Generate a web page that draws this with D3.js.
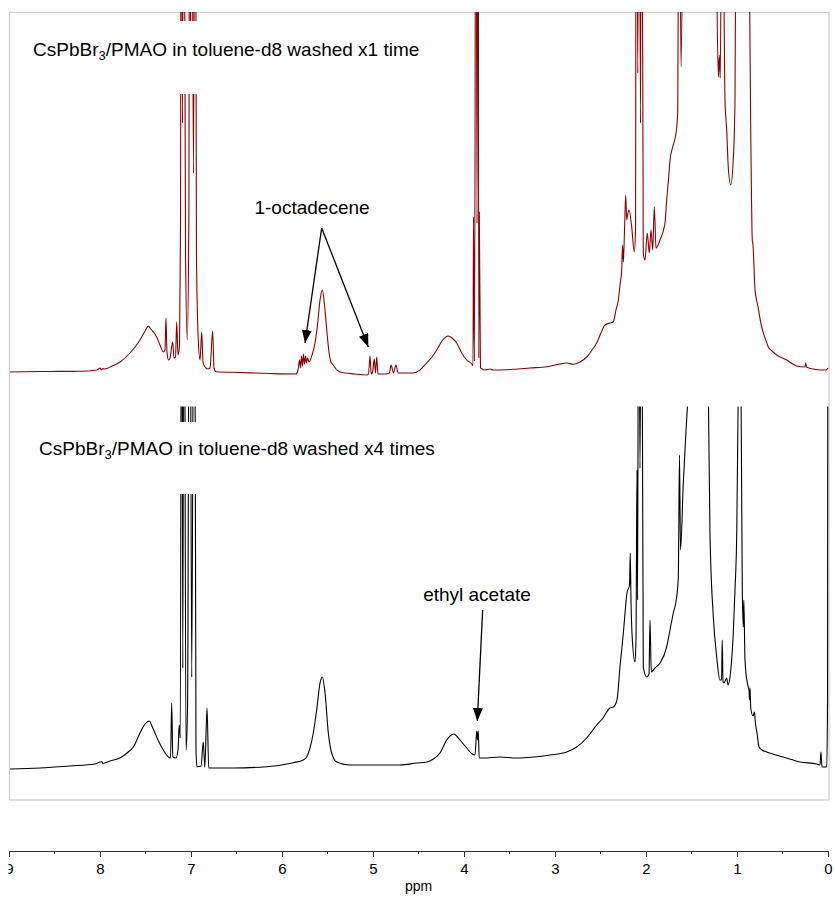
<!DOCTYPE html>
<html>
<head>
<meta charset="utf-8">
<script src="https://cdn.jsdelivr.net/npm/d3@7"></script>
<style>
  body { margin: 0; background: #fff; }
  svg { display: block; font-family: "Liberation Sans", Arial, sans-serif; }
</style>
</head>
<body>
<div class="nmr-chart"></div>
<script>
// 1H NMR, two spectra stacked, x axis in ppm (reversed)
const majorTicks = [9, 8, 7, 6, 5, 4, 3, 2, 1, 0];
const minorTicks = [8.5, 7.5, 6.5, 5.5, 4.5, 3.5, 2.5, 1.5, 0.5];

// [ppm, intensity a.u.] washed x1 time (red)
const washedOnce = [
  [9.000, 1], [8.659, 1.5], [8.220, 1.7], [8.033, 3], [8.000, 5], [7.984, 3], [7.967, 4.5], [7.945, 4],
  [7.868, 7], [7.780, 11], [7.670, 20], [7.560, 33], [7.505, 42], [7.469, 47], [7.451, 45], [7.377, 36],
  [7.341, 28], [7.304, 21], [7.286, 23], [7.275, 55], [7.264, 21], [7.247, 13], [7.231, 15], [7.201, 31],
  [7.187, 15], [7.170, 16], [7.157, 51], [7.143, 18], [7.126, 28], [7.115, 150], [7.107, 700], [7.093, 250],
  [7.082, 700], [7.060, 120], [7.041, 33], [7.024, 150], [7.014, 700], [7.004, 300], [6.995, 700], [6.973, 200],
  [6.954, 700], [6.940, 120], [6.923, 40], [6.901, 13], [6.882, 41], [6.868, 11], [6.852, 7], [6.835, 5],
  [6.813, 4], [6.791, 5], [6.762, 42], [6.747, 5], [6.725, 1.3], [6.462, 0.5], [6.132, -0.5], [5.846, -1],
  [5.824, 3], [5.808, 13], [5.797, 5], [5.786, 17], [5.775, 7], [5.764, 19], [5.753, 9], [5.742, 17],
  [5.731, 10], [5.720, 15], [5.703, 11], [5.670, 18], [5.637, 30], [5.610, 48], [5.582, 73], [5.557, 83],
  [5.533, 68], [5.505, 40], [5.484, 21], [5.462, 11], [5.436, 8], [5.407, 4], [5.363, 1], [5.198, -1],
  [5.069, -2], [5.049, -1], [5.033, 17], [5.019, -1], [5.005, 1], [4.986, 14], [4.973, 0], [4.959, 16],
  [4.945, -1], [4.868, -1], [4.819, 0], [4.802, 8], [4.775, 0], [4.747, 8], [4.725, 0], [4.560, 0],
  [4.484, 3], [4.410, 10], [4.352, 16], [4.300, 23], [4.242, 32], [4.173, 37], [4.132, 35], [4.080, 30],
  [4.025, 20], [3.970, 13], [3.915, 9], [3.901, 7], [3.896, 156], [3.885, 12], [3.868, 700], [3.857, 150],
  [3.846, 700], [3.837, 15], [3.832, 161], [3.819, 5], [3.802, 4], [3.769, 3], [3.714, 4], [3.681, 3],
  [3.462, 3.7], [3.275, 5], [3.091, 6.3], [2.945, 9], [2.871, 10], [2.802, 8.7], [2.725, 11], [2.652, 16],
  [2.593, 23], [2.542, 30], [2.495, 40], [2.451, 48], [2.396, 50], [2.359, 51], [2.330, 63], [2.304, 73],
  [2.286, 88], [2.267, 103], [2.258, 128], [2.249, 111], [2.236, 143], [2.223, 178], [2.212, 153], [2.203, 158],
  [2.187, 163], [2.157, 146], [2.129, 121], [2.115, 143], [2.108, 700], [2.090, 300], [2.077, 700], [2.060, 250],
  [2.049, 700], [2.030, 120], [2.011, 113], [1.986, 140], [1.964, 120], [1.945, 143], [1.926, 123], [1.909, 166],
  [1.890, 125], [1.846, 133], [1.791, 150], [1.773, 173], [1.753, 193], [1.736, 213], [1.707, 226], [1.670, 240],
  [1.652, 260], [1.637, 600], [1.615, 306], [1.582, 600], [1.516, 800], [1.407, 900], [1.297, 800], [1.231, 450],
  [1.205, 296], [1.195, 318], [1.184, 295], [1.168, 500], [1.157, 500], [1.132, 273], [1.113, 243], [1.096, 206],
  [1.069, 188], [1.041, 213], [1.022, 273], [1.011, 500], [0.967, 900], [0.912, 900], [0.868, 450], [0.849, 243],
  [0.832, 133], [0.824, 128], [0.802, 83], [0.773, 68], [0.729, 46], [0.692, 35], [0.656, 26], [0.615, 22],
  [0.564, 18], [0.454, 13], [0.344, 7], [0.253, 6], [0.245, 10], [0.236, 6], [0.162, 4], [0.069, 3],
  [0.022, 3], [0.000, 5]
];

// [ppm, intensity a.u.] washed x4 times (black)
const washedFour = [
  [9.000, -1], [8.659, 0], [8.330, 2], [8.055, 4], [8.000, 6], [7.981, 6.3], [7.967, 4.5], [7.890, 7],
  [7.780, 10], [7.703, 15], [7.634, 21], [7.560, 35], [7.505, 44], [7.458, 47], [7.429, 42], [7.396, 35],
  [7.352, 26], [7.304, 18], [7.249, 11], [7.225, 10], [7.212, 65], [7.200, 11], [7.165, 10], [7.143, 18],
  [7.129, 43], [7.118, 30], [7.102, 700], [7.090, 100], [7.077, 700], [7.055, 18], [7.038, 60], [7.014, 700],
  [6.992, 91], [6.964, 700], [6.945, 18], [6.934, 1.3], [6.890, 2], [6.865, 26], [6.848, 1], [6.824, 60],
  [6.805, 0], [6.538, 0], [6.168, 1.3], [5.876, 5.3], [5.766, 8], [5.729, 11], [5.692, 20], [5.656, 35],
  [5.619, 58], [5.582, 85], [5.557, 91], [5.527, 75], [5.491, 35], [5.454, 15], [5.399, 6], [5.253, 3],
  [4.887, 3], [4.703, 3], [4.520, 5], [4.410, 6], [4.337, 9], [4.264, 15], [4.190, 28], [4.154, 32],
  [4.110, 34], [4.077, 31.5], [4.044, 28], [3.970, 20], [3.909, 14], [3.879, 13], [3.860, 37], [3.852, 28],
  [3.843, 37], [3.833, 10], [3.788, 10], [3.604, 11], [3.421, 10], [3.238, 11], [3.055, 13], [2.871, 16],
  [2.762, 21], [2.652, 30], [2.542, 43], [2.473, 50], [2.432, 56], [2.396, 60], [2.359, 61], [2.319, 68],
  [2.286, 101], [2.249, 135], [2.209, 175], [2.181, 183], [2.173, 215], [2.165, 168], [2.154, 135], [2.121, 106],
  [2.110, 128], [2.099, 298], [2.092, 168], [2.082, 600], [2.066, 300], [2.049, 600], [2.030, 101], [1.992, 91],
  [1.967, 94], [1.956, 148], [1.942, 96], [1.901, 100], [1.846, 105], [1.773, 121], [1.736, 138], [1.700, 155],
  [1.663, 171], [1.645, 191], [1.632, 313], [1.621, 218], [1.590, 285], [1.560, 338], [1.535, 380], [1.462, 700],
  [1.407, 900], [1.352, 700], [1.315, 380], [1.297, 235], [1.260, 151], [1.223, 111], [1.187, 88], [1.170, 88],
  [1.162, 128], [1.154, 86], [1.143, 85], [1.113, 90], [1.099, 83], [1.077, 91], [1.041, 135], [1.022, 178],
  [1.003, 235], [0.986, 380], [0.967, 800], [0.956, 380], [0.942, 178], [0.931, 141], [0.925, 168], [0.912, 108],
  [0.887, 85], [0.868, 78], [0.863, 68], [0.857, 80], [0.849, 60], [0.824, 52], [0.808, 56], [0.799, 46],
  [0.780, 35], [0.758, 21], [0.725, 18], [0.674, 16], [0.491, 11], [0.308, 6], [0.124, 4], [0.088, 3],
  [0.077, 16], [0.066, 1], [0.014, 1], [0.005, 68], [0.000, 700]
];

const titles = [
  { main: "CsPbBr", sub: "3", rest: "/PMAO in toluene-d8 washed x1 time" },
  { main: "CsPbBr", sub: "3", rest: "/PMAO in toluene-d8 washed x4 times" }
];

// annotations in data units: label at [ppm, int], arrows from -> to
const octadeceneNote = { text: "1-octadecene", at: [5.67, 159], from: [5.564, 145], to: [[5.747, 30], [5.052, 26]] };
const ethylNote = { text: "ethyl acetate", at: [3.857, 167], from: [3.795, 158], to: [[3.854, 47]] };

const W = 835, H = 898;
const svg = d3.select(".nmr-chart").append("svg")
  .attr("width", W).attr("height", H);

const x = d3.scaleLinear().domain([9, 0]).range([9, 828]);
const yTop = d3.scaleLinear().domain([0, 361]).range([373, 12]);
const yBot = d3.scaleLinear().domain([0, 362]).range([768, 406]);

const defs = svg.append("defs");
defs.append("clipPath").attr("id", "clipTop")
  .append("rect").attr("x", 10).attr("y", 12).attr("width", 819).attr("height", 390);
defs.append("clipPath").attr("id", "clipBot")
  .append("rect").attr("x", 10).attr("y", 406.5).attr("width", 819).attr("height", 393);
// axis group is translated, so this clip is in its local units
defs.append("clipPath").attr("id", "clipAxis")
  .append("rect").attr("x", 8.5).attr("y", -10).attr("width", 830).attr("height", 60);
defs.append("marker")
  .attr("id", "arrow")
  .attr("viewBox", "0 0 13 10")
  .attr("refX", 13).attr("refY", 5)
  .attr("markerWidth", 13).attr("markerHeight", 10)
  .attr("markerUnits", "userSpaceOnUse")
  .attr("orient", "auto")
  .append("path").attr("d", "M0,0L13,5L0,10Z").attr("fill", "#000");

// frame
svg.append("rect")
  .attr("x", 9.5).attr("y", 12.5).attr("width", 819.5).attr("height", 787.5)
  .attr("fill", "none").attr("stroke", "#cfcfcf").attr("stroke-width", 1.2);

function drawSpectrum(data, yScale, clipId, color) {
  svg.append("path")
    .datum(data)
    .attr("clip-path", "url(#" + clipId + ")")
    .attr("fill", "none")
    .attr("stroke", color)
    .attr("stroke-width", 1.1)
    .attr("stroke-linejoin", "round")
    .attr("d", d3.line()
      .curve(d3.curveMonotoneX)
      .x(function(d){ return x(d[0]); })
      .y(function(d){ return yScale(d[1]); }));
}
drawSpectrum(washedOnce, yTop, "clipTop", "#8b0000");
drawSpectrum(washedFour, yBot, "clipBot", "#000");

// label boxes (white background hides the tall toluene lines)
const boxes = [
  { x: 22, y: 21, w: 412, h: 73, tx: 33, ty: 56 },
  { x: 28, y: 422, w: 422, h: 72, tx: 39, ty: 455 }
];
boxes.forEach(function(b, i) {
  svg.append("rect").attr("x", b.x).attr("y", b.y).attr("width", b.w).attr("height", b.h).attr("fill", "#fff");
  const t = svg.append("text").attr("x", b.tx).attr("y", b.ty)
    .attr("font-size", 19).attr("fill", "#000");
  t.append("tspan").text(titles[i].main);
  t.append("tspan").attr("font-size", 13).attr("dy", 4).text(titles[i].sub);
  t.append("tspan").attr("dy", -4).text(titles[i].rest);
});

function drawNote(note, yScale) {
  svg.append("text")
    .attr("x", x(note.at[0])).attr("y", yScale(note.at[1]))
    .attr("text-anchor", "middle").attr("font-size", 19)
    .text(note.text);
  note.to.forEach(function(t) {
    svg.append("line")
      .attr("x1", x(note.from[0])).attr("y1", yScale(note.from[1]))
      .attr("x2", x(t[0])).attr("y2", yScale(t[1]))
      .attr("stroke", "#000").attr("stroke-width", 1.3)
      .attr("marker-end", "url(#arrow)");
  });
}
drawNote(octadeceneNote, yTop);
drawNote(ethylNote, yBot);

// ppm axis
const axisG = svg.append("g")
  .attr("transform", "translate(0,851)")
  .attr("clip-path", "url(#clipAxis)");
axisG.call(d3.axisBottom(x).tickValues(majorTicks).tickSize(6).tickSizeOuter(0).tickFormat(d3.format("d")))
  .call(function(g){ g.select(".domain").attr("stroke", "#333"); })
  .call(function(g){ g.selectAll(".tick line").attr("stroke", "#333"); })
  .call(function(g){ g.selectAll(".tick text").attr("font-size", 15).attr("font-family", "Liberation Sans, Arial, sans-serif").attr("fill", "#000").attr("dy", "0.95em"); });
axisG.selectAll(".minor")
  .data(minorTicks)
  .enter()
  .append("line")
    .attr("class", "minor")
    .attr("x1", function(d){ return x(d); }).attr("x2", function(d){ return x(d); })
    .attr("y1", 0).attr("y2", 3)
    .attr("stroke", "#333");

svg.append("text")
  .attr("x", x(4.5)).attr("y", 891)
  .attr("text-anchor", "middle").attr("font-size", 14)
  .text("ppm");
</script>
</body>
</html>
